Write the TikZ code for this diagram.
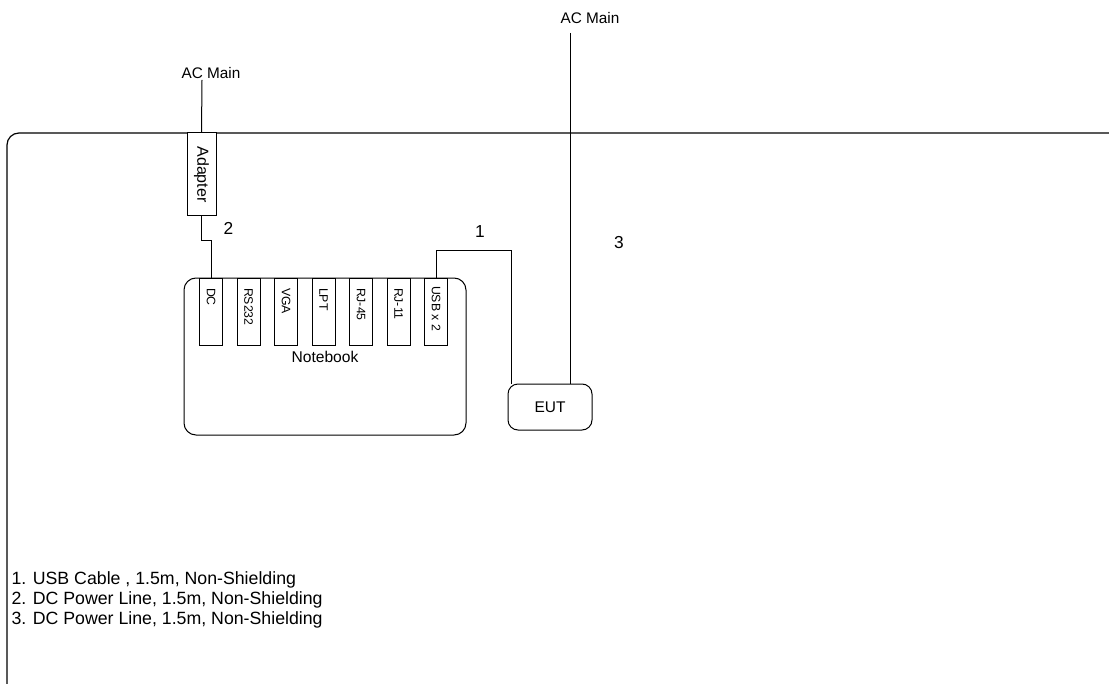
\documentclass[tikz,border=0pt]{standalone}
\usepackage{fontspec}
\setmainfont{Liberation Sans}
\usetikzlibrary{calc}
\begin{document}
\begin{tikzpicture}[x=0.75pt,y=-0.75pt,
  line width=0.75pt,
  lbl/.style={inner sep=0pt,font=\fontsize{11.5}{13}\selectfont},
  num/.style={inner sep=0pt,font=\fontsize{13}{15}\selectfont},
  legend/.style={inner sep=0pt,anchor=base west,font=\fontsize{13.3}{15}\selectfont},
  portbox/.style={draw,minimum width=17.25pt,minimum height=50.25pt,inner sep=0pt},
  porttext/.style={rotate=-90,anchor=west,inner sep=0pt,font=\fontsize{9.2}{10}\selectfont},
  adapterbox/.style={draw,rotate=-90,minimum width=62.25pt,minimum height=21.75pt,
    inner sep=0pt,font=\fontsize{12}{14}\selectfont},
  devbox/.style={draw,rounded corners=9pt,inner sep=0pt,font=\fontsize{11.7}{14}\selectfont}
]
\useasboundingbox (0,0) rectangle (1109,684);
% outer frame
\draw[line width=0.9pt,rounded corners=9pt] (7,684) -- (7,133) -- (1109,133);

% notebook
\node[devbox,minimum width=211.5pt,minimum height=117.75pt] (nb) at (325,356.5) {Notebook};
% ports
\node[portbox] (dc)  at (211,311.5) {};
\node[portbox] (rs)  at (248.5,311.5) {};
\node[portbox] (vga) at (286,311.5) {};
\node[portbox] (lpt) at (323.5,311.5) {};
\node[portbox] (rj45) at (361,311.5) {};
\node[portbox] (rj11) at (398.5,311.5) {};
\node[portbox] (usb) at (436,311.5) {};
\node[porttext] (tdc)   at ($(dc.north)+(0,10)$) {DC};
\node[porttext] (trs)   at ($(rs.north)+(0,10)$) {RS232};
\node[porttext] (tvga)  at ($(vga.north)+(0,10)$) {VGA};
\node[porttext] (tlpt)  at ($(lpt.north)+(0,10)$) {LPT};
\node[porttext] (trj45) at ($(rj45.north)+(0,10)$) {RJ-45};
\node[porttext] (trj11) at ($(rj11.north)+(0,10)$) {RJ-11};
\node[porttext] (tusb)  at ($(usb.north)+(0,8)$) {USB x 2};

% adapter
\node[adapterbox,fill=white] (adapter) at (201.5,174.5) {Adapter};

% EUT
\node[devbox,rounded corners=7.5pt,minimum width=63pt,minimum height=34.5pt,font=\fontsize{11.6}{14}\selectfont] (eut) at (550,407) {\raisebox{-3pt}{EUT}};

% AC main labels
\node[lbl] (acm1) at (211,73) {AC Main};
\node[lbl] (acm2) at (590,18) {AC Main};
\coordinate (ac1) at (202,80);
\coordinate (ac2) at (570,33);

% connectors
\draw (ac1) -- (adapter.west);
\draw (adapter.east) -- ++(0,24) -| (dc.north);
\coordinate (u1) at (511,250.5);
\draw (usb.north) |- (u1) -- (u1 |- eut.north);
\draw (ac2) -- (ac2 |- eut.north);

% cable numbers
\node[num] (n1) at (480,232) {1};
\node[num] (n2) at (228.5,228.5) {2};
\node[num] (n3) at (619,243) {3};

% legend
\node[legend] (l1) at (11,584) {1. USB Cable , 1.5m, Non-Shielding};
\node[legend] (l2) at (11,604) {2. DC Power Line, 1.5m, Non-Shielding};
\node[legend] (l3) at (11,624) {3. DC Power Line, 1.5m, Non-Shielding};
\end{tikzpicture}
\end{document}
